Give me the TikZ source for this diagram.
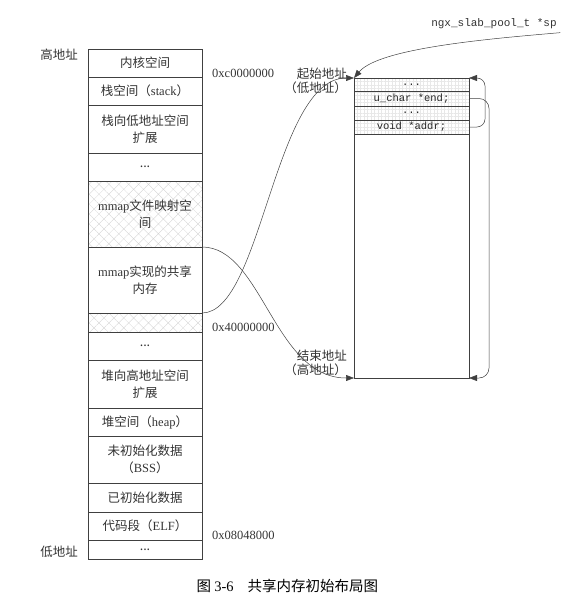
\documentclass[tikz,border=0pt]{standalone}
\usepackage{fontspec}
\setmainfont{Liberation Serif}
\newfontfamily\cjk{Noto Sans CJK SC}
\newfontfamily\codefont{Liberation Mono}
\usetikzlibrary{arrows.meta,positioning,patterns.meta}
\tikzset{
  seg/.style={draw=black!75,line width=0.6pt,rectangle,minimum width=114pt,inner sep=1pt,outer sep=0pt,align=center,text=black!80,font=\cjk\fontsize{12.5}{17}\selectfont},
  hatched/.style={seg,pattern={Hatch[angle=45,distance=7pt,line width=0.3pt]},pattern color=black!18},
  slot/.style={draw=black!75,line width=0.6pt,rectangle,minimum width=115pt,inner sep=0pt,outer sep=0pt,text=black!85,font=\codefont\fontsize{10.5}{12}\selectfont},
  gridded/.style={slot,pattern={Hatch[angle=0,distance=3.5pt,line width=0.2pt]},pattern color=black!9},
  hexaddr/.style={inner sep=0pt,text=black!80,font=\fontsize{12.5}{14}\selectfont},
  tag/.style={inner sep=0pt,align=right,text=black!80,font=\cjk\fontsize{12.5}{14}\selectfont},
  ptr/.style={-{Triangle[length=8pt,width=6pt]},line width=0.5pt,draw=black!75}
}

\begin{document}
\begin{tikzpicture}[x=1pt,y=-1pt,node distance=0pt]
\useasboundingbox (0,0) rectangle (587,610);

% process address space
\node[seg,minimum height=28pt] (kernel) at (145,63) {内核空间};
\node[seg,minimum height=28pt,below=of kernel] (stack) {栈空间（\textrm{stack}）};
\node[seg,minimum height=48pt,below=of stack] (stkdown) {栈向低地址空间\\扩展};
\node[seg,minimum height=28pt,below=of stkdown] (gap1) {...};
\node[hatched,minimum height=66pt,below=of gap1] (mfile) {\textrm{mmap}文件映射空\\间};
\node[seg,minimum height=66pt,below=of mfile] (shm) {\textrm{mmap}实现的共享\\内存};
\node[hatched,minimum height=19pt,below=of shm] (strip) {};
\node[seg,minimum height=28pt,below=of strip] (gap2) {...};
\node[seg,minimum height=48pt,below=of gap2] (heapup) {堆向高地址空间\\扩展};
\node[seg,minimum height=28pt,below=of heapup] (heap) {堆空间（\textrm{heap}）};
\node[seg,minimum height=47pt,below=of heap] (bss) {未初始化数据\\（\textrm{BSS}）};
\node[seg,minimum height=29pt,below=of bss] (data) {已初始化数据};
\node[seg,minimum height=28pt,below=of data] (code) {代码段（\textrm{ELF}）};
\node[seg,minimum height=19pt,below=of code] (gap3) {...};

\node[tag,anchor=east] (high) at ([xshift=-10pt,yshift=-6pt]kernel.north west) {高地址};
\node[tag,anchor=east] (low) at ([xshift=-10pt,yshift=7pt]gap3.south west) {低地址};

\node[hexaddr,anchor=west] (hexc) at ([xshift=10pt,yshift=4pt]kernel.south east) {0xc0000000};
\node[hexaddr,anchor=west] (hexm) at ([xshift=10pt,yshift=5pt]strip.south east) {0x40000000};
\node[hexaddr,anchor=west] (hexe) at ([xshift=10pt,yshift=5pt]code.south east) {0x08048000};

% shared memory layout
\node[gridded,minimum height=13pt] (p1) at (411.5,84.5) {...};
\node[gridded,minimum height=15pt,below=of p1] (pend) {u\_char *end;};
\node[gridded,minimum height=14pt,below=of pend] (p2) {...};
\node[gridded,minimum height=14pt,below=of p2] (paddr) {void *addr;};
\node[slot,minimum height=244pt,below=of paddr] (pfree) {};

\node[font=\codefont\fontsize{11}{13}\selectfont,text=black!80] (sp) at (494,24) {ngx\_slab\_pool\_t *sp};
\node[tag,anchor=north east] (start) at ([xshift=-7pt,yshift=10pt]p1.north west) {起始地址\\（低地址）};
\node[tag,anchor=south east] (finish) at ([xshift=-7pt,yshift=2pt]pfree.south west) {结束地址\\（高地址）};

\draw[ptr] (sp.south east) .. controls +(-70,6) and +(25,-30) .. (p1.north west);
\draw[ptr] (shm.south east) .. controls +(60,0) and +(-80,0) .. (p1.north west);
\draw[ptr] (shm.north east) .. controls +(60,0) and +(-80,0) .. (pfree.south west);
\draw[ptr,rounded corners=10pt] (pend.east) -| ([xshift=20pt]pfree.south east) -- (pfree.south east);
\draw[ptr,rounded corners=8pt] (paddr.east) -| ([xshift=16pt]p1.north east) -- (p1.north east);

\node[anchor=west,font=\cjk\fontsize{14.5}{16}\selectfont] (caption) at (193,586) {图 \textrm{3-6}\hspace{14pt}共享内存初始布局图};

\end{tikzpicture}
\end{document}
